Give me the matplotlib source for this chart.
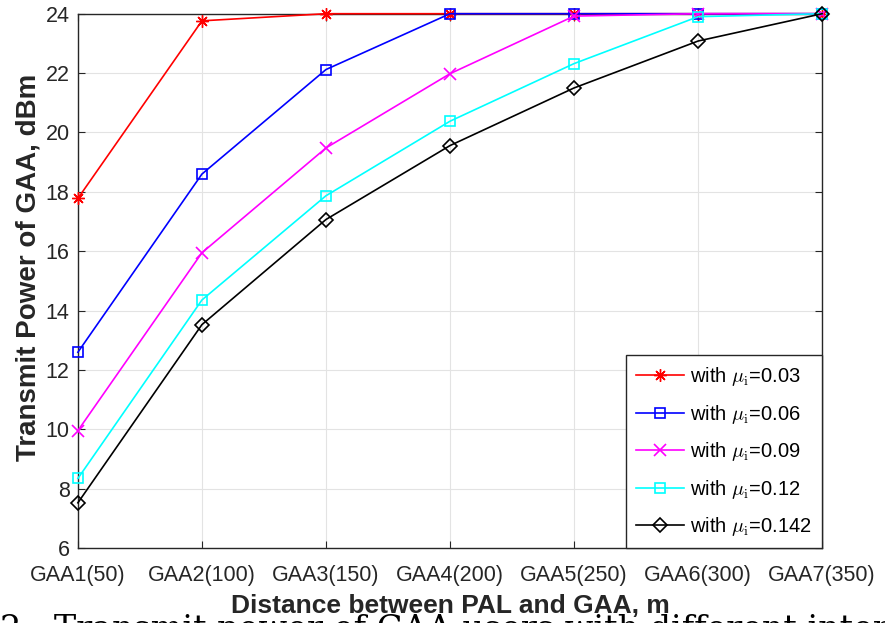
import matplotlib
matplotlib.use('Agg')
import matplotlib.pyplot as plt
import numpy as np

# data
positions = ['GAA1(50)', 'GAA2(100)', 'GAA3(150)', 'GAA4(200)', 'GAA5(250)', 'GAA6(300)', 'GAA7(350)']
mu_003 = [17.78, 23.76, 24.0, 24.0, 24.0, 24.0, 24.0]
mu_006 = [12.6, 18.6, 22.12, 24.0, 24.0, 24.0, 24.0]
mu_009 = [9.96, 15.95, 19.48, 21.98, 23.92, 24.0, 24.0]
mu_012 = [8.35, 14.36, 17.87, 20.38, 22.32, 23.9, 24.0]
mu_0142 = [7.53, 13.53, 17.07, 19.56, 21.5, 23.08, 24.0]

plt.rcParams['font.family'] = ['Liberation Sans', 'DejaVu Sans']
plt.rcParams['mathtext.fontset'] = 'cm'

fig = plt.figure(figsize=(8.85, 6.23), dpi=100)
ax = fig.add_axes([0.088, 0.12, 0.841, 0.858])

x = np.arange(len(positions))
kw = dict(lw=1.2, clip_on=False, zorder=3)
ax.plot(x, mu_003, color='red', marker=(8, 2, 0), ms=9, mew=1.0, label=r'with $\mu_{\rm i}$=0.03', **kw)
ax.plot(x, mu_006, color='blue', marker='s', ms=7, mfc='none', mew=1.2, label=r'with $\mu_{\rm i}$=0.06', **kw)
ax.plot(x, mu_009, color='magenta', marker='x', ms=8, mew=1.2, label=r'with $\mu_{\rm i}$=0.09', **kw)
ax.plot(x, mu_012, color='cyan', marker='s', ms=7, mfc='none', mew=1.2, label=r'with $\mu_{\rm i}$=0.12', **kw)
ax.plot(x, mu_0142, color='black', marker='D', ms=7, mfc='none', mew=1.2, label=r'with $\mu_{\rm i}$=0.142', **kw)

ax.set_xlim(0, 6)
ax.set_ylim(6, 24)
ax.set_xticks(x)
ax.set_xticklabels(positions)
ax.set_yticks(np.arange(6, 25, 2))
ax.tick_params(axis='both', direction='in', top=True, right=True, labelsize=15.5, colors='#262626', length=5)
ax.tick_params(axis='x', pad=12)
ax.tick_params(axis='y', pad=6)
ax.grid(True, color='#e3e3e3', lw=0.8)
for s in ax.spines.values():
    s.set_color('#262626')
    s.set_linewidth(1)

ax.set_xlabel('Distance between PAL and GAA, m', fontsize=19, fontweight='bold', color='#262626', labelpad=6)
ax.set_ylabel('Transmit Power of GAA, dBm', fontsize=20, fontweight='bold', color='#262626')
ax.yaxis.set_label_coords(-0.049, 0.525)

leg = ax.legend(loc='lower right', fontsize=14.5, fancybox=False, framealpha=1, edgecolor='#262626',
                borderaxespad=0, handlelength=2.4, labelspacing=0.72, handletextpad=0.3, borderpad=0.5)
leg.get_frame().set_linewidth(1)

# figure caption, cut off at the bottom edge
fig.text(0.0, 0.014, r'2:  Transmit power of GAA users with different interference minimization thresholds',
         fontsize=24, family='DejaVu Serif', va='top', ha='left')

fig.savefig('out.png', dpi=100)
